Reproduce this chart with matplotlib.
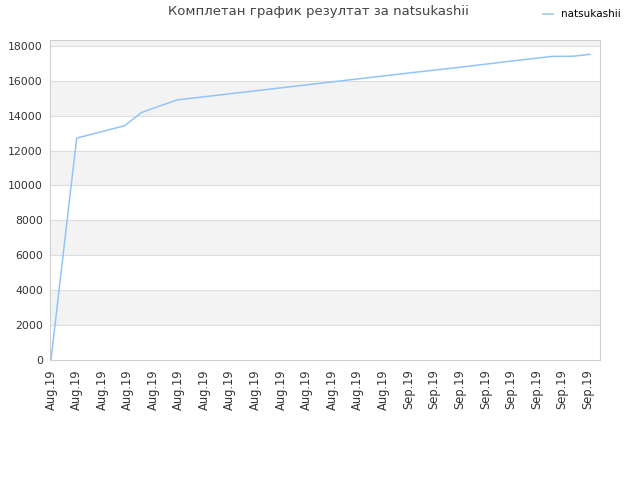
import matplotlib.pyplot as plt

# values (x in tick-index units)
pos = [0, 0.82, 1.01, 2.88, 3.55, 4.21, 4.95, 6, 8, 10, 12, 14, 16, 18, 19.61, 20.43, 21.09]
score = [0, 10360, 12710, 13420, 14180, 14530, 14900, 15080, 15420, 15760, 16100, 16440,
         16770, 17120, 17390, 17400, 17510]
tick_labels = ['Aug.19'] * 14 + ['Sep.19'] * 8
yticks = [0, 2000, 4000, 6000, 8000, 10000, 12000, 14000, 16000, 18000]

fig = plt.figure(figsize=(6.4, 4.8), dpi=100)
ax = fig.add_axes([0.078, 0.25, 0.86, 0.667])

ymax = 18340
ax.set_ylim(0, ymax)
ax.set_xlim(-0.04, 21.5)

# alternating bands
bounds = yticks + [ymax]
for i in range(len(bounds) - 1):
    if i % 2 == 1:
        ax.axhspan(bounds[i], bounds[i + 1], color='#f3f3f3', zorder=0, lw=0)
for y in yticks[1:]:
    ax.axhline(y, color='#dddddd', lw=0.8, zorder=1)

ax.plot(pos, score, color='#92c5f7', lw=1.1, zorder=3, label='natsukashii')

ax.set_yticks(yticks)
ax.set_xticks(range(len(tick_labels)))
ax.set_xticklabels(tick_labels, rotation=90, fontsize=8.3, color='#333333')
ax.tick_params(axis='y', labelsize=7.8, labelcolor='#333333', pad=5)
ax.tick_params(axis='x', pad=7)
ax.tick_params(length=0)
for s in ax.spines.values():
    s.set_color('#d0d0d0')

fig.text(0.497, 0.975, 'Комплетан график резултат за natsukashii', ha='center', va='center',
         fontsize=9.5, color='#444444')
fig.legend(loc='upper right', bbox_to_anchor=(0.985, 1.0), frameon=False, fontsize=7.5,
           handlelength=1.0, handletextpad=0.8)

fig.savefig('out.png')
